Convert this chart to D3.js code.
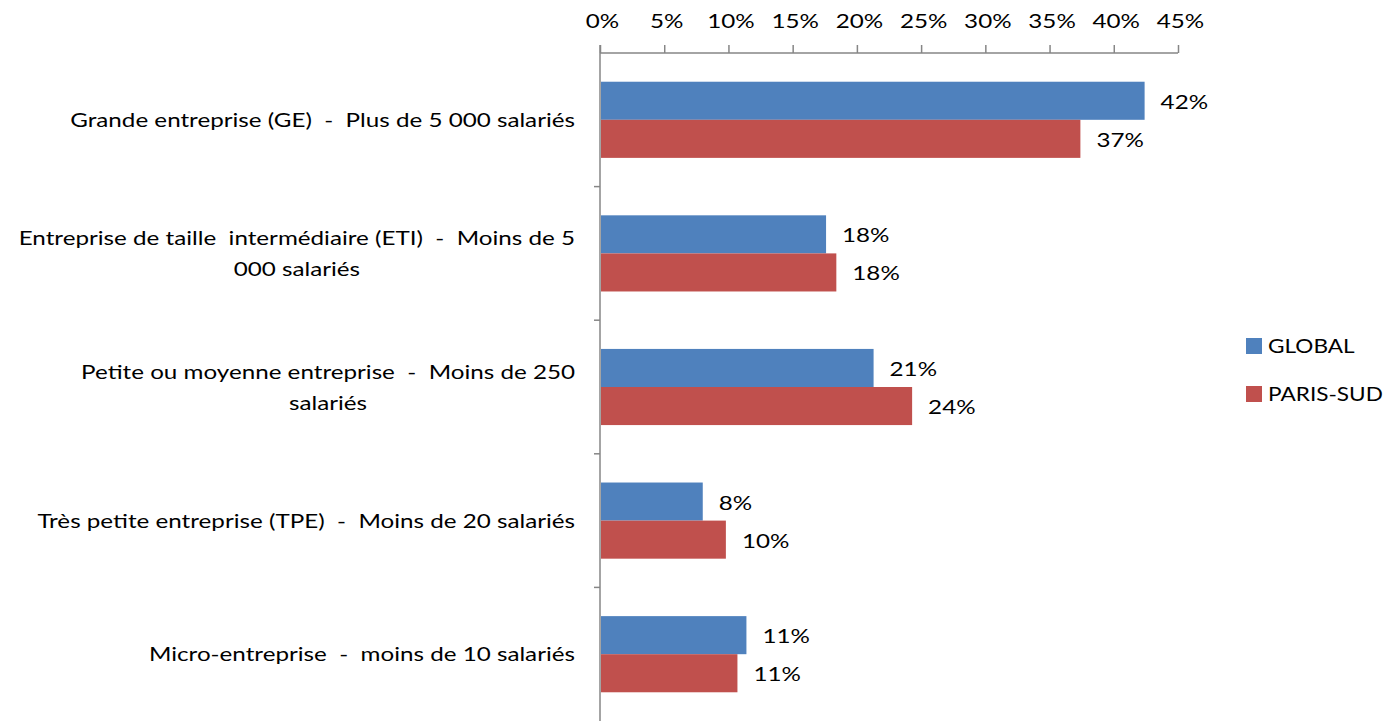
<!DOCTYPE html>
<html>
<head>
<meta charset="utf-8">
<script src="https://cdn.jsdelivr.net/npm/d3@7"></script>
<style>
  html, body { margin: 0; padding: 0; background: #fff; }
  svg { display: block; }
  text { font-family: Lato, "Open Sans", sans-serif; fill: #000; white-space: pre; }
</style>
</head>
<body>
<svg id="chart" width="1383" height="721"></svg>
<script>
const categories = [
  "Grande entreprise (GE)  -  Plus de 5 000 salariés",
  "Entreprise de taille  intermédiaire (ETI)  -  Moins de 5\n000 salariés",
  "Petite ou moyenne entreprise  -  Moins de 250\nsalariés",
  "Très petite entreprise (TPE)  -  Moins de 20 salariés",
  "Micro-entreprise  -  moins de 10 salariés"
];
const seriesNames = ["GLOBAL", "PARIS-SUD"];
const globalValues = [42.4, 17.6, 21.3, 8.0, 11.4];
const parisSudValues = [37.4, 18.4, 24.3, 9.8, 10.7];
const valueLabels = [["42%", "18%", "21%", "8%", "11%"], ["37%", "18%", "24%", "10%", "11%"]];
const xTicks = [0, 5, 10, 15, 20, 25, 30, 35, 40, 45];
const colors = ["#4F81BD", "#C0504D"];

(function () {
const series = [globalValues, parisSudValues];
const svg = d3.select("#chart");
const mLeft = 600, mRight = 1178, mTop = 53, mBottom = 721;
const fontSize = 20;
const sx = 1.21;   // horizontal stretch of glyphs to match reference font width

const x = d3.scaleLinear().domain([0, 45]).range([mLeft, mRight]);
const y = d3.scaleBand().domain(d3.range(categories.length)).range([mTop, mBottom]).paddingInner(0.43).paddingOuter(0.215);
const ySub = d3.scaleBand().domain([0, 1]).range([0, y.bandwidth()]);

function label(parent, tx, ty, str, anchor, scale) {
  const g = parent.append("g").attr("transform", `translate(${tx},${ty}) scale(${scale || sx},1)`);
  return g.append("text").attr("x", 0).attr("y", 0).attr("dy", "0.35em")
    .attr("text-anchor", anchor || "start")
    .style("font-size", fontSize + "px").text(str);
}

// bars
series.forEach((vals, si) => {
  svg.append("g").selectAll("rect").data(vals).join("rect")
    .attr("x", x(0) + 1)
    .attr("y", (d, i) => y(i) + ySub(si))
    .attr("width", d => x(d) - x(0) - 1)
    .attr("height", ySub.bandwidth())
    .attr("fill", colors[si]);
  const lg = svg.append("g");
  vals.forEach((d, i) => {
    label(lg, x(d) + 16, y(i) + ySub(si) + ySub.bandwidth() / 2 + 1, valueLabels[si][i], "start");
  });
});

// top axis
const axisColor = "#868686";
const xAxis = svg.append("g").attr("transform", `translate(0,${mTop})`)
  .call(d3.axisTop(x).tickValues(xTicks).tickFormat(d => d + "%").tickSize(8).tickPadding(17));
xAxis.select(".domain").attr("stroke", axisColor).attr("stroke-width", 1.5).attr("d", `M${mLeft},0H${mRight}`);
xAxis.selectAll(".tick line").attr("stroke", axisColor).attr("stroke-width", 1.5);
xAxis.selectAll(".tick text")
  .style("font-size", fontSize + "px").style("font-family", "Lato, sans-serif").attr("fill", "#000")
  .attr("transform", `translate(2,0) scale(${sx},1)`);

// left axis
const yBounds = d3.range(categories.length + 1).map(i => mTop + i * y.step());
const yAxisG = svg.append("g");
yAxisG.append("line").attr("x1", mLeft).attr("x2", mLeft).attr("y1", mTop - 8).attr("y2", mBottom)
  .attr("stroke", axisColor).attr("stroke-width", 1.5);
yAxisG.selectAll("line.tk").data(yBounds.slice(1, -1)).join("line").attr("class", "tk")
  .attr("x1", mLeft - 6).attr("x2", mLeft).attr("y1", d => d).attr("y2", d => d)
  .attr("stroke", axisColor).attr("stroke-width", 1.5);

// category labels
const lineH = 31;
categories.forEach((c, i) => {
  const lines = c.split("\n");
  const g = svg.append("g");
  const cy = y(i) + y.bandwidth() / 2;
  const ts = lines.map((ln, k) => label(g, 0, cy + (k - (lines.length - 1) / 2) * lineH, ln, "middle"));
  const maxW = d3.max(ts.map(t => t.node().getComputedTextLength())) * sx;
  const cx = 575 - maxW / 2;
  ts.forEach(t => {
    const p = d3.select(t.node().parentNode);
    const ty = +p.attr("transform").match(/translate\([^,]+,([^)]+)\)/)[1];
    p.attr("transform", `translate(${cx},${ty}) scale(${sx},1)`);
  });
});

// legend
const legend = svg.append("g").attr("transform", "translate(1246,346)");
seriesNames.forEach((n, i) => {
  legend.append("rect").attr("x", 0).attr("y", i * 48 - 8).attr("width", 16).attr("height", 16).attr("fill", colors[i]);
  label(legend, 22, i * 48, n, "start", 1.13);
});
})();
</script>
</body>
</html>
